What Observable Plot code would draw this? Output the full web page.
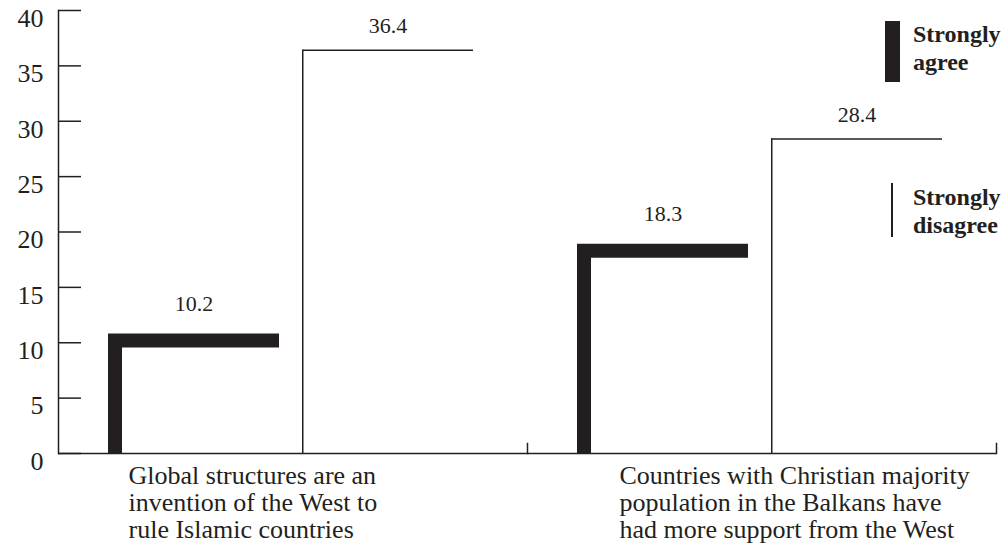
<!DOCTYPE html>
<html>
<head>
<meta charset="utf-8">
<script src="https://cdn.jsdelivr.net/npm/d3@7"></script>
<script src="https://cdn.jsdelivr.net/npm/@observablehq/plot@0.6"></script>
<style>
  html, body { margin: 0; padding: 0; background: #fff; }
  #wrap { position: relative; width: 1007px; height: 547px; font-family: "Liberation Serif", "DejaVu Serif", serif; color: #231f20; }
  #wrap svg, #wrap svg text, #wrap svg tspan { font-family: "Liberation Serif", "DejaVu Serif", serif !important; }
  .swatch { position: absolute; background: #231f20; }
  .legend-text { position: absolute; font-weight: bold; font-size: 24px; line-height: 28px; white-space: nowrap; }
</style>
</head>
<body>
<div id="wrap"></div>
<script>
// ---- data ----
const categories = [
  "Global structures are an invention of the West to rule Islamic countries",
  "Countries with Christian majority population in the Balkans have had more support from the West"
];
const categoryLines = [
  ["Global structures are an", "invention of the West to", "rule Islamic countries"],
  ["Countries with Christian majority", "population in the Balkans have", "had more support from the West"]
];
const series = ["Strongly agree", "Strongly disagree"];
const agreeValues = [10.2, 18.3];
const disagreeValues = [36.4, 28.4];
const yTicks = [0, 5, 10, 15, 20, 25, 30, 35, 40];

// ---- build table ----
const data = categories.flatMap((c, i) => [
  {category: c, series: series[0], value: agreeValues[i]},
  {category: c, series: series[1], value: disagreeValues[i]}
]);
const agree = data.filter(d => d.series === series[0]);
const disagree = data.filter(d => d.series === series[1]);
const labels = categories.map((c, i) => ({category: c, text: categoryLines[i].join("\n")}));

// ---- layout ----
const ink = "#231f20";
const serif = '"Liberation Serif", "DejaVu Serif", serif';
const W = 1007, H = 547;
const mL = 58, mR = 11, mT = 10, mB = 94;
const padIn = 0.118, padOut = 0.2616, align = 0.48;
const facetW = (W - mL - mR) / categories.length;
const step = facetW / (series.length - padIn + 2 * padOut);
const bw = step * (1 - padIn);
const thick = 14, thin = 1.5;

const chart = Plot.plot({
  width: W, height: H,
  marginTop: mT, marginBottom: mB, marginLeft: mL, marginRight: mR,
  style: {"font-family": serif, "color": ink, "background": "white", "overflow": "visible"},
  fx: {domain: categories, padding: 0, axis: null},
  x: {domain: series, paddingInner: padIn, paddingOuter: padOut, align, axis: null},
  y: {domain: [0, 40], axis: null},
  marks: [
    // y axis: inward ticks, then labels
    Plot.axisY(yTicks, {anchor: "left", tickSize: -23, fill: "none", stroke: ink, strokeWidth: 1.5, label: null}),
    Plot.axisY(yTicks, {anchor: "left", tickSize: 0, tickPadding: 15, fontSize: 26, fontFamily: serif, dy: 8, fill: ink, label: null}),
    Plot.frame({anchor: "left", facetAnchor: "left", stroke: ink, strokeWidth: 1.5}),
    // x baseline and group boundary ticks
    Plot.ruleY([0], {stroke: ink, strokeWidth: 1.5}),
    Plot.frame({anchor: "right", insetTop: H - mT - mB - 10, stroke: ink, strokeWidth: 1.5}),
    // strongly agree: thick L
    Plot.tickY(agree, {fx: "category", x: "series", y: "value", stroke: ink, strokeWidth: thick}),
    Plot.ruleX(agree, {fx: "category", x: "series", y1: 0, y2: "value", stroke: ink, strokeWidth: thick, dx: -bw / 2 + thick / 2}),
    // strongly disagree: thin L
    Plot.tickY(disagree, {fx: "category", x: "series", y: "value", stroke: ink, strokeWidth: thin}),
    Plot.ruleX(disagree, {fx: "category", x: "series", y1: 0, y2: "value", stroke: ink, strokeWidth: thin, dx: -bw / 2 + thin / 2}),
    // value labels
    Plot.text(agree, {fx: "category", x: "series", y: "value", text: d => d.value.toFixed(1), dy: -37, fontSize: 22, fontFamily: serif, fill: ink}),
    Plot.text(disagree, {fx: "category", x: "series", y: "value", text: d => d.value.toFixed(1), dy: -24, fontSize: 22, fontFamily: serif, fill: ink}),
    // category labels
    Plot.text(labels.slice(0, 1), {fx: "category", text: "text", frameAnchor: "bottom-left", textAnchor: "start", lineAnchor: "top", lineHeight: 1.04, dx: 70, dy: 11, fontSize: 26, fontFamily: serif, fill: ink}),
    Plot.text(labels.slice(1, 2), {fx: "category", text: "text", frameAnchor: "bottom-left", textAnchor: "start", lineAnchor: "top", lineHeight: 1.04, dx: 92, dy: 11, fontSize: 26, fontFamily: serif, fill: ink})
  ]
});

const wrap = document.getElementById("wrap");
chart.setAttribute("font-family", serif);
chart.style.position = "absolute";
chart.style.left = "0";
chart.style.top = "0";
wrap.appendChild(chart);

// legend (HTML overlay)
const legendItems = [
  {label: ["Strongly", "agree"], swatch: {left: 885, top: 21, width: 15, height: 61}, text: {left: 913, top: 20}},
  {label: ["Strongly", "disagree"], swatch: {left: 891, top: 183, width: 1.5, height: 54}, text: {left: 913, top: 183}}
];
for (const item of legendItems) {
  const sw = document.createElement("div");
  sw.className = "swatch";
  Object.assign(sw.style, {left: item.swatch.left + "px", top: item.swatch.top + "px", width: item.swatch.width + "px", height: item.swatch.height + "px"});
  wrap.appendChild(sw);
  const tx = document.createElement("div");
  tx.className = "legend-text";
  tx.style.left = item.text.left + "px";
  tx.style.top = item.text.top + "px";
  tx.innerHTML = item.label.join("<br>");
  wrap.appendChild(tx);
}
</script>
</body>
</html>
